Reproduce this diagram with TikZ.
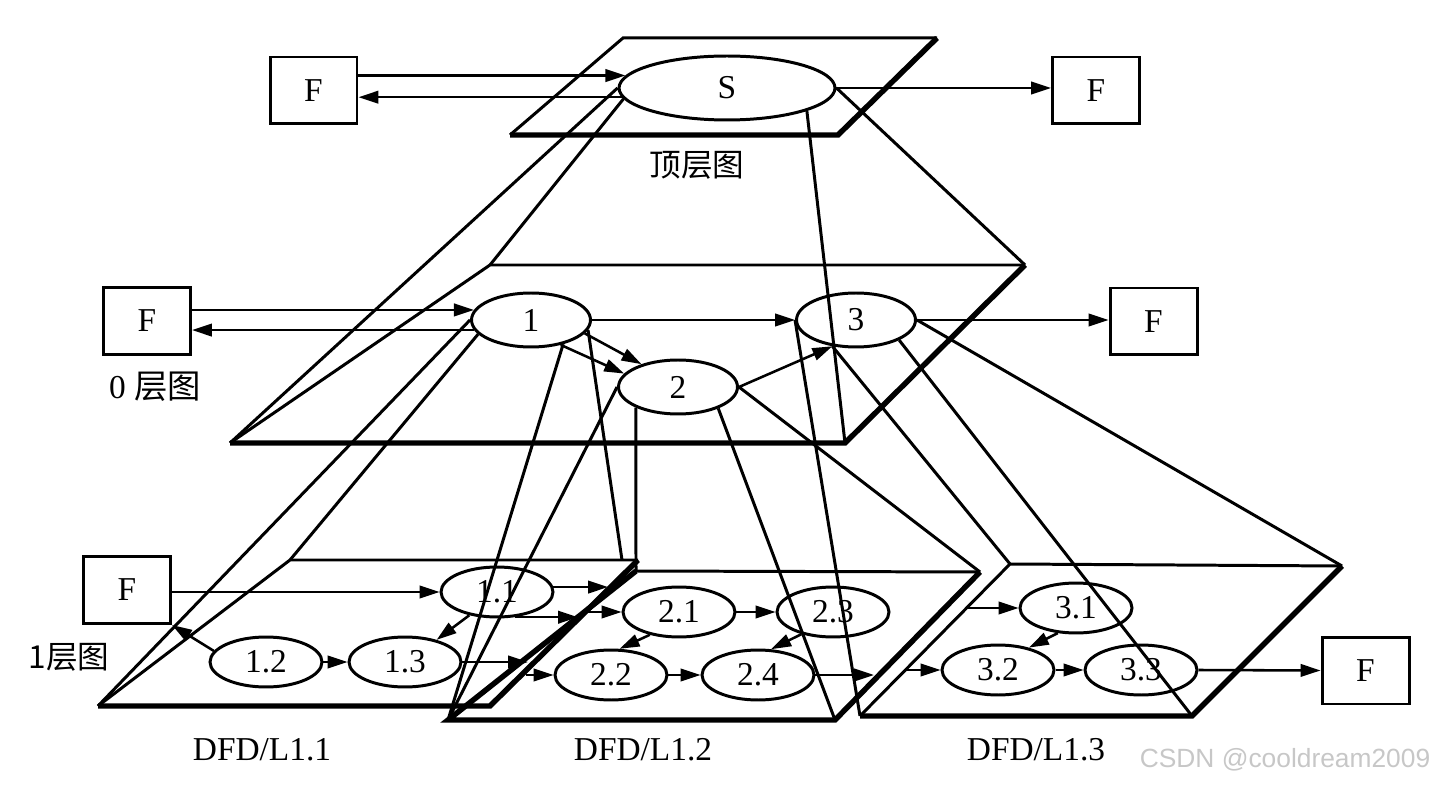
\documentclass[tikz,border=0pt]{standalone}
\usepackage{fontspec}
\setmainfont{Liberation Serif}
\newfontfamily\cjk{Noto Sans CJK SC}
\newfontfamily\wmark{Liberation Sans}
\usetikzlibrary{arrows.meta, shapes.geometric}

\begin{document}
\begin{tikzpicture}[x=0.02cm, y=-0.02cm,
    ext/.style={draw, line width=1.7pt, minimum width=1.74cm, minimum height=1.34cm,
                inner sep=0pt, font=\fontsize{19}{21}\selectfont},
    proc/.style={ellipse, draw, line width=1.7pt, minimum width=2.24cm,
                 minimum height=1cm, inner sep=0pt, font=\fontsize{19}{21}\selectfont},
    proc0/.style={proc, minimum width=2.38cm, minimum height=1.08cm},
    flow/.style={-{Triangle[length=4mm, width=2.5mm]}, line width=1.45pt},
    proj/.style={line width=1.7pt},
    rim/.style={line width=1.7pt, line join=miter},
    base/.style={line width=3.1pt, line join=miter},
    lbl/.style={font=\fontsize{19}{21}\selectfont},
    cjklbl/.style={font=\cjk\fontsize{18}{20}\selectfont}]
    \useasboundingbox (0,0) rectangle (1435,786);

    % plane corners
    \coordinate (ttl) at (623,38);  \coordinate (ttr) at (937,38);
    \coordinate (tbr) at (838,135); \coordinate (tbl) at (510,135);
    \coordinate (atl) at (490,265); \coordinate (atr) at (1025,265);
    \coordinate (abr) at (845,443); \coordinate (abl) at (230,443);
    \coordinate (btl) at (290,560); \coordinate (btr) at (638,560);
    \coordinate (bbr) at (490,706); \coordinate (bbl) at (98,706);
    \coordinate (bup) at (622,560);
    \coordinate (ctl) at (636,571); \coordinate (ctr) at (980,572);
    \coordinate (cbr) at (835,720); \coordinate (cbl) at (448,720);
    \coordinate (dtl) at (1010,564); \coordinate (dtr) at (1342,566);
    \coordinate (dbr) at (1192,716); \coordinate (dbl) at (860,716);

    \draw[rim] (tbl) -- (ttl) -- (ttr);
    \draw[base] (ttr) -- (tbr) -- (tbl);
    \draw[rim] (abl) -- (atl) -- (atr);
    \draw[base] (atr) -- (abr) -- (abl);
    \draw[rim] (bbl) -- (btl) -- (btr);
    \draw[base] (btr) -- (bbr) -- (bbl);
    \draw[rim] (ctl) -- (ctr);
    \draw[base] (ctr) -- (cbr) -- (cbl) -- (ctl);
    \draw[rim] (dbl) -- (dtl) -- (dtr);
    \draw[base] (dtr) -- (dbr) -- (dbl);

    % top level
    \node[ext] (fa) at (313.5,90.5) {F};
    \node[proc, minimum width=4.32cm, minimum height=1.28cm] (s) at (727,88) {S};
    \node[ext] (fb) at (1096,90.5) {F};
    \node[cjklbl] (lt) at (697,165) {顶层图};

    % level 0
    \node[ext] (fc) at (147,321) {F};
    \node[proc0] (p1) at (531,320) {1};
    \node[proc0] (p2) at (678,387) {2};
    \node[proc0] (p3) at (856,320) {3};
    \node[ext] (fd) at (1153.5,321.5) {F};
    \node[lbl] (l0) at (155,387) {0 {\cjk 层图}};

    % level 1
    \node[ext] (fe) at (127,590) {F};
    \node[proc] (q11) at (497,592) {1.1};
    \node[proc] (q12) at (266,662) {1.2};
    \node[proc] (q13) at (405,662) {1.3};
    \node[proc] (q21) at (679,612) {2.1};
    \node[proc] (q22) at (611,675) {2.2};
    \node[proc] (q23) at (833,612) {2.3};
    \node[proc] (q24) at (758,675) {2.4};
    \node[proc] (q31) at (1076,608) {3.1};
    \node[proc] (q32) at (998,670) {3.2};
    \node[proc] (q33) at (1141,670) {3.3};
    \node[ext] (ff) at (1365.5,670.5) {F};
    \node[cjklbl] (l1) at (69,657) {1层图};
    \node[lbl] (n1) at (262,750) {DFD/L1.1};
    \node[lbl] (n2) at (643,750) {DFD/L1.2};
    \node[lbl] (n3) at (1036,750) {DFD/L1.3};
    \node[font=\wmark\fontsize{15}{17}\selectfont, text=black!22] (wm) at (1285,760)
        {CSDN @cooldream2009};

    % projections
    \draw[proj] (s.west) -- (abl);
    \draw[proj] (s.186) -- (atl);
    \draw[proj] (s.-16) -- (abr);
    \draw[proj] (s.east) -- (atr);
    \draw[proj] (p1.west) -- (bbl);
    \draw[proj] (p1.195) -- (btl);
    \draw[proj] (p1.-37) -- (cbl);
    \draw[proj] (p1.-10) -- (bup);
    \draw[proj] (p2.west) -- (cbl);
    \draw[proj] (p2.206) -- (ctl);
    \draw[proj] (p2.-28) -- (cbr);
    \draw[proj] (p2.east) -- (ctr);
    \draw[proj] (p3.west) -- (dbl);
    \draw[proj] (p3.228) -- (dtl);
    \draw[proj] (p3.-25) -- (dbr);
    \draw[proj] (p3.east) -- (dtr);

    % flows
    \draw[flow] (fa.east |- s.173) -- (s.173);
    \draw[flow] (s.185) -- (s.185 -| fa.east);
    \draw[flow] (s.east) -- (s.east -| fb.west);

    \draw[flow] (fc.east |- p1.170) -- (p1.170);
    \draw[flow] (p1.190) -- (p1.190 -| fc.east);
    \draw[flow] (p1.east) -- (p3.west);
    \draw[flow] (p3.east) -- (p3.east -| fd.west);
    \draw[flow] (p1.-14) -- (p2.148);
    \draw[flow] (p1.-40) -- (p2.166);
    \draw[flow] (p2.east) -- (p3.228);

    \coordinate (o11) at (608,587);
    \coordinate (o12) at (578,615);
    \coordinate (i21) at (586,612);
    \coordinate (o13) at (528,662);
    \coordinate (i22) at (526,675);
    \coordinate (o24) at (874,675);
    \coordinate (i32) at (906,670);
    \coordinate (i31) at (968,608);
    \draw[flow] (fe.east |- q11.west) -- (q11.west);
    \draw[flow] (q12.168) -- (fe.south east);
    \draw[flow] (q12.east) -- (q13.west);
    \draw[flow] (q11.220) -- (q13.35);
    \draw[flow] (q11.5) -- (q11.5 -| o11);
    \draw[flow] (q11.-55) -- (q11.-55 -| o12);
    \draw[flow] (i21) -- (q21.west);
    \draw[flow] (q13.east) -- (o13);
    \draw[flow] (i22) -- (q22.west);
    \draw[flow] (q21.east) -- (q23.west);
    \draw[flow] (q21.218) -- (q22.72);
    \draw[flow] (q23.215) -- (q24.63);
    \draw[flow] (q22.east) -- (q24.west);
    \draw[flow] (q24.east) -- (o24);
    \draw[flow] (i32) -- (q32.west);
    \draw[flow] (i31) -- (q31.west);
    \draw[flow] (q31.234) -- (q32.36);
    \draw[flow] (q32.east) -- (q33.west);
    \draw[flow] (q33.east) -- (ff.west);
\end{tikzpicture}
\end{document}
